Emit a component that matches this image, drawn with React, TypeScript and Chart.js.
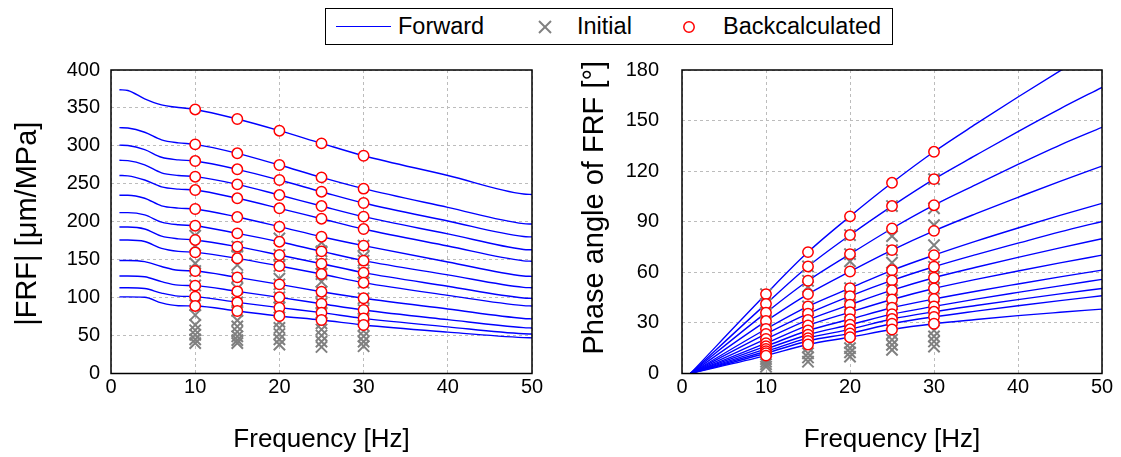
import React, { useEffect, useRef } from 'react';
import { Chart, registerables } from 'chart.js';

Chart.register(...registerables);

const FONT = '"Liberation Sans", Arial, Helvetica, sans-serif';
const BLUE = '#0000ff';
const GREY = '#808080';
const RED = '#ff0000';

// ---- shared ----
const sampleFreqs = [10, 15, 20, 25, 30];

// ---- left panel: |FRF| [µm/MPa] ----
const magFreqs = [1, 2, 4, 6, 8, 10, 15, 20, 25, 30, 40, 49, 50];
const magForward = [
  [374, 373, 362, 354, 350.5, 348, 335.4, 320, 303.3, 287, 261, 236.5, 236],
  [324, 323.5, 318, 308, 304, 302, 290.2, 274.8, 258.5, 243.6, 219, 197.5, 197],
  [301, 300.5, 295, 285, 281.5, 280, 269.1, 255, 239.6, 224.7, 201, 180.5, 180],
  [281, 280.5, 275, 264.5, 261, 259.4, 249.3, 235.2, 220.7, 206.7, 184, 163.5, 163],
  [261, 260.5, 255, 246, 243, 241.8, 230.9, 217.7, 204, 190.4, 168, 148.5, 148],
  [235, 235, 231, 221, 218, 216.8, 206.2, 193.5, 180.3, 168.5, 147, 128.5, 128],
  [212, 212, 209, 199.5, 196, 194.8, 184.7, 173.7, 161, 148.7, 130, 113.5, 113],
  [193, 193, 190.5, 181, 177.5, 176, 167.2, 156.2, 144.7, 132.9, 115, 99.5, 99],
  [176, 176, 174, 165, 161, 159.7, 151.8, 141.7, 131.1, 119.7, 103, 89.5, 89],
  [149, 149, 147.5, 141, 136, 135.1, 126.7, 117.5, 107.8, 99.1, 85, 72.5, 72],
  [128.5, 128.5, 127.5, 121, 116.5, 115.8, 108.3, 100.4, 92, 83.7, 71, 60.5, 60],
  [113, 113, 112, 106, 102, 101.3, 93.8, 86.8, 80.2, 72.7, 61.5, 52.3, 52],
  [101, 101, 100.5, 93, 89.3, 89, 82.4, 75.8, 70.5, 63.9, 54.5, 47.3, 47],
];
const magBack10 = [348, 302, 280, 259.4, 241.8, 216.8, 194.8, 176, 159.7, 135.1, 115.8, 101.3, 89];
const magBack15 = [335.4, 290.2, 269.1, 249.3, 230.9, 206.2, 184.7, 167.2, 151.8, 126.7, 108.3, 93.8, 82.4];
const magBack20 = [320, 274.8, 255, 235.2, 217.7, 193.5, 173.7, 156.2, 141.7, 117.5, 100.4, 86.8, 75.8];
const magBack25 = [303.3, 258.5, 239.6, 220.7, 204, 180.3, 161, 144.7, 131.1, 107.8, 92, 80.2, 70.5];
const magBack30 = [287, 243.6, 224.7, 206.7, 190.4, 168.5, 148.7, 132.9, 119.7, 99.1, 83.7, 72.7, 63.9];
const magInit10 = [181.6, 168.4, 145.2, 135, 116, 107.8, 90, 77.1, 64, 57, 51, 45, 40];
const magInit15 = [167.2, 156, 143, 126.7, 112, 93.8, 82.4, 70, 62, 55, 49, 44, 40];
const magInit20 = [178, 156.2, 150, 141.7, 125, 117.5, 100.4, 86.8, 68, 60, 52, 45, 38];
const magInit25 = [172.6, 161, 144.7, 131.1, 121, 107.8, 92, 80.2, 66, 58, 50, 42, 35];
const magInit30 = [168.5, 154, 148.7, 132.9, 119.7, 99.1, 83.7, 72.7, 63, 56, 49, 42, 36];

// ---- right panel: phase angle [°] ----
const phaseFreqs = [1, 10, 15, 20, 25, 30, 35, 40, 45, 50];
const phaseForward = [
  [0, 47.1, 72, 93.2, 113.1, 131.5, 148, 164, 179.5, 194.5],
  [0, 41.3, 63.5, 82.1, 99.3, 115.3, 129.5, 143.5, 157, 169.7],
  [0, 36.1, 55, 70.8, 86, 99.8, 112, 124, 135.5, 146],
  [0, 31.1, 47.1, 60.5, 73.2, 84.6, 94.8, 104.5, 114, 123],
  [0, 26.4, 39.8, 50.6, 61.2, 70.2, 78.5, 86.3, 93.8, 100.9],
  [0, 23.5, 35.5, 45.9, 55.2, 63.3, 70.5, 77.3, 84, 90.2],
  [0, 20.5, 31.8, 40.8, 49.4, 56.8, 63, 68.9, 74.5, 79.9],
  [0, 18, 28.5, 36.4, 43.9, 50.4, 55.8, 60.8, 65.6, 70.2],
  [0, 16.2, 25.5, 32.2, 39, 44.2, 48.8, 53.1, 57.3, 61.3],
  [0, 14.6, 23, 28.9, 35.2, 39.8, 44.1, 48.1, 52, 55.8],
  [0, 13.2, 21, 26.2, 32.3, 36.6, 40.3, 43.8, 47.2, 50.4],
  [0, 12, 19.3, 23.8, 29.5, 33.6, 37, 40.2, 43.2, 46.1],
  [0, 10.6, 17.2, 21.5, 26.1, 29.5, 32, 34.3, 36.3, 38.2],
];
const phaseBack10 = [47.1, 41.3, 36.1, 31.1, 26.4, 23.5, 20.5, 18, 16.2, 14.6, 13.2, 12, 10.6];
const phaseBack15 = [72, 63.5, 55, 47.1, 39.8, 35.5, 31.8, 28.5, 25.5, 23, 21, 19.3, 17.2];
const phaseBack20 = [93.2, 82.1, 70.8, 60.5, 50.6, 45.9, 40.8, 36.4, 32.2, 28.9, 26.2, 23.8, 21.5];
const phaseBack25 = [113.1, 99.3, 86, 73.2, 61.2, 55.2, 49.4, 43.9, 39, 35.2, 32.3, 29.5, 26.1];
const phaseBack30 = [131.5, 115.3, 99.8, 84.6, 70.2, 63.3, 56.8, 50.4, 44.2, 39.8, 36.6, 33.6, 29.5];
const phaseInit10 = [47.1, 41.3, 36.1, 31.1, 26.4, 23.5, 20.5, 16.2, 13.2, 8.5, 7, 5.5, 4];
const phaseInit15 = [63.5, 55, 51.4, 39.8, 35.5, 31.8, 28.5, 25.5, 21, 15.5, 12, 9.5, 7];
const phaseInit20 = [82.1, 70.8, 66.5, 50.6, 45.9, 40.8, 36.4, 28.9, 23.8, 18, 15, 12.5, 10];
const phaseInit25 = [99.3, 81.5, 73.2, 65.7, 55.2, 49.4, 43.9, 35.2, 29.5, 23.5, 20, 17, 14];
const phaseInit30 = [115.3, 98, 88, 76.1, 63.3, 56.8, 50.4, 39.8, 33.6, 25.5, 22, 19, 16];

// ---- helpers ----
const pts = (xs: number[], ys: number[]) => xs.map((x, i) => ({ x, y: ys[i] }));
const columns = (cols: number[][]) =>
  cols.flatMap((col, j) => col.map((y) => ({ x: sampleFreqs[j], y })));

const framePlugin = {
  id: 'frame',
  afterDatasetsDraw(chart: any) {
    const { ctx, chartArea: a } = chart;
    ctx.save();
    ctx.strokeStyle = '#000';
    ctx.lineWidth = 1.5;
    ctx.strokeRect(a.left, a.top, a.right - a.left, a.bottom - a.top);
    ctx.restore();
  },
};

type PanelOpts = {
  freqs: number[];
  forward: number[][];
  back: number[][];
  init: number[][];
  yMax: number;
  yStep: number;
  yTitle: string;
  yTitleX: number;
  yTitleShift: number;
  yAxisWidth: number;
  yTickPad: number;
  padRight: number;
};

function makeConfig(o: PanelOpts): any {
  const yTitlePlugin = {
    id: 'yTitle',
    afterDraw(chart: any) {
      const { ctx, chartArea: a } = chart;
      ctx.save();
      ctx.translate(o.yTitleX, (a.top + a.bottom) / 2 + o.yTitleShift);
      ctx.rotate(-Math.PI / 2);
      ctx.textAlign = 'center';
      ctx.textBaseline = 'middle';
      ctx.fillStyle = '#000';
      ctx.font = `29px ${FONT}`;
      ctx.fillText(o.yTitle, 0, 0);
      ctx.restore();
    },
  };
  const datasets: any[] = [
    {
      label: 'Backcalculated',
      data: columns(o.back),
      showLine: false,
      pointStyle: 'circle',
      pointRadius: 5.2,
      pointBorderWidth: 1.5,
      pointBorderColor: RED,
      pointBackgroundColor: '#ffffff',
    },
    {
      label: 'Initial',
      data: columns(o.init),
      showLine: false,
      pointStyle: 'crossRot',
      pointRadius: 8,
      pointBorderWidth: 2,
      pointBorderColor: GREY,
      pointBackgroundColor: GREY,
    },
    ...o.forward.map((row) => ({
      label: 'Forward',
      data: pts(o.freqs, row),
      showLine: true,
      borderColor: BLUE,
      borderWidth: 1.4,
      pointRadius: 0,
      cubicInterpolationMode: 'monotone',
      fill: false,
    })),
  ];
  return {
    type: 'scatter',
    data: { datasets },
    options: {
      responsive: false,
      animation: false,
      events: [],
      layout: { padding: { left: 0, right: o.padRight, top: 20, bottom: 0 } },
      plugins: { legend: { display: false }, tooltip: { enabled: false } },
      scales: {
        x: {
          type: 'linear',
          min: 0,
          max: 50,
          ticks: { stepSize: 10, font: { family: FONT, size: 20 }, color: '#000', padding: 2 },
          grid: { color: '#bcbcbc', lineWidth: 1, drawTicks: false },
          border: { display: false, dash: [3, 3] },
          title: {
            display: true,
            text: 'Frequency [Hz]',
            font: { family: FONT, size: 26 },
            color: '#000',
            padding: { top: 0, bottom: 2 },
          },
          afterFit: (s: any) => {
            s.height = 83.5;
            s.paddingLeft = 0;
            s.paddingRight = 0;
          },
        },
        y: {
          type: 'linear',
          min: 0,
          max: o.yMax,
          ticks: { stepSize: o.yStep, font: { family: FONT, size: 20 }, color: '#000', padding: o.yTickPad },
          grid: { color: '#bcbcbc', lineWidth: 1, drawTicks: false },
          border: { display: false, dash: [3, 3] },
          title: { display: false },
          afterFit: (s: any) => {
            s.width = o.yAxisWidth;
            s.paddingTop = 0;
            s.paddingBottom = 0;
          },
        },
      },
    },
    plugins: [framePlugin, yTitlePlugin],
  };
}

function Panel(props: { opts: PanelOpts; left: number; top: number; width: number; height: number }) {
  const ref = useRef<HTMLCanvasElement>(null);
  useEffect(() => {
    const chart = new Chart(ref.current as HTMLCanvasElement, makeConfig(props.opts));
    return () => chart.destroy();
  }, []);
  return (
    <canvas
      ref={ref}
      width={props.width}
      height={props.height}
      style={{ position: 'absolute', left: props.left, top: props.top, width: props.width, height: props.height }}
    />
  );
}

function Legend() {
  const text: React.CSSProperties = {
    position: 'absolute',
    top: 0,
    lineHeight: '35px',
    fontSize: 23.5,
    color: '#000',
    whiteSpace: 'nowrap',
  };
  return (
    <div
      style={{
        position: 'absolute',
        left: 325,
        top: 8,
        width: 568,
        height: 37,
        border: '1px solid #000',
        boxSizing: 'border-box',
        fontFamily: FONT,
        background: '#fff',
      }}
    >
      <div style={{ position: 'absolute', left: 10, top: 17, width: 55, height: 0, borderTop: `1.5px solid ${BLUE}` }} />
      <span style={{ ...text, left: 72 }}>Forward</span>
      <svg style={{ position: 'absolute', left: 212, top: 11 }} width={14} height={14}>
        <line x1={1} y1={1} x2={13} y2={13} stroke={GREY} strokeWidth={2} />
        <line x1={13} y1={1} x2={1} y2={13} stroke={GREY} strokeWidth={2} />
      </svg>
      <span style={{ ...text, left: 251 }}>Initial</span>
      <svg style={{ position: 'absolute', left: 356, top: 11 }} width={14} height={14}>
        <circle cx={7} cy={7} r={5.2} fill="#fff" stroke={RED} strokeWidth={1.5} />
      </svg>
      <span style={{ ...text, left: 397 }}>Backcalculated</span>
    </div>
  );
}

export default function App() {
  const leftOpts: PanelOpts = {
    freqs: magFreqs,
    forward: magForward,
    back: [magBack10, magBack15, magBack20, magBack25, magBack30],
    init: [magInit10, magInit15, magInit20, magInit25, magInit30],
    yMax: 400,
    yStep: 50,
    yTitle: '|FRF| [μm/MPa]',
    yTitleX: 28,
    yTitleShift: 2,
    yAxisWidth: 111,
    yTickPad: 11,
    padRight: 28,
  };
  const rightOpts: PanelOpts = {
    freqs: phaseFreqs,
    forward: phaseForward,
    back: [phaseBack10, phaseBack15, phaseBack20, phaseBack25, phaseBack30],
    init: [phaseInit10, phaseInit15, phaseInit20, phaseInit25, phaseInit30],
    yMax: 180,
    yStep: 30,
    yTitle: 'Phase angle of FRF [°]',
    yTitleX: 35,
    yTitleShift: -14,
    yAxisWidth: 122,
    yTickPad: 23,
    padRight: 19,
  };
  return (
    <div style={{ position: 'absolute', left: 0, top: 0, width: 1121, height: 457, background: '#fff', overflow: 'hidden' }}>
      <Legend />
      <Panel opts={leftOpts} left={0} top={50} width={560} height={407} />
      <Panel opts={rightOpts} left={560} top={50} width={561} height={407} />
    </div>
  );
}
